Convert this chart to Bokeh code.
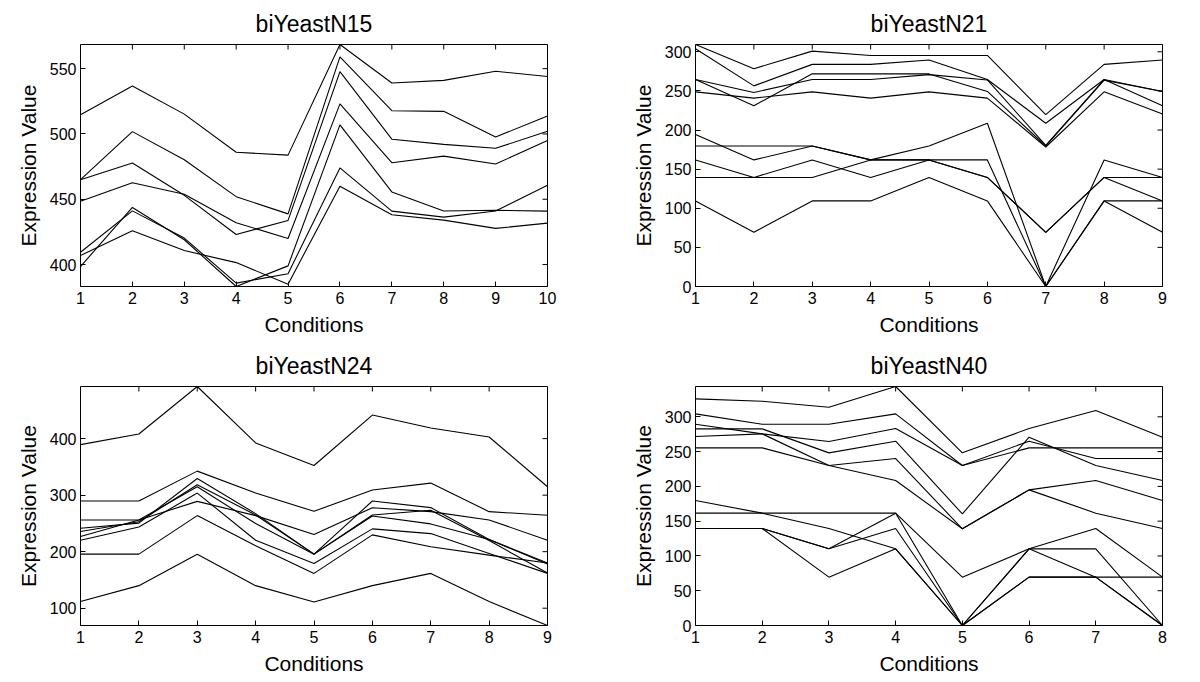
import math
from bokeh.plotting import figure
from bokeh.models import Range1d, FixedTicker
from bokeh.layouts import column, row
from bokeh.embed import file_html
from bokeh.resources import INLINE

FONT = "Liberation Sans"
TITLES = ["biYeastN15", "biYeastN21", "biYeastN24", "biYeastN40"]
X_LABEL = "Conditions"
Y_LABEL = "Expression Value"

# biYeastN15: 7 genes x 10 conditions
N15 = [
    [514.7, 536.8, 515.2, 486.0, 483.8, 568.5, 539.0, 541.0, 548.0, 544.0],
    [465.0, 501.8, 480.2, 452.0, 438.8, 559.0, 517.8, 517.3, 497.7, 513.7],
    [465.0, 477.7, 453.0, 423.0, 433.8, 547.7, 496.0, 492.0, 489.0, 502.0],
    [448.5, 462.7, 453.8, 432.0, 420.0, 523.0, 478.0, 483.0, 477.0, 495.0],
    [407.0, 425.9, 410.7, 401.5, 385.0, 460.0, 438.1, 434.0, 427.7, 431.7],
    [409.4, 441.1, 420.3, 385.8, 393.0, 474.0, 440.9, 436.3, 441.0, 460.7],
    [398.5, 443.7, 419.0, 383.2, 399.0, 507.0, 455.6, 441.0, 441.6, 440.9],
]
N15_YTICKS = [400, 450, 500, 550]

# biYeastN21: 10 genes x 9 conditions
N21 = [
    [309.3, 278.4, 300.8, 295.3, 295.3, 295.3, 219.7, 283.9, 289.4],
    [303.8, 256.4, 283.9, 283.9, 289.4, 264.5, 208.7, 264.5, 249.3],
    [264.5, 248.0, 264.5, 264.5, 270.8, 264.0, 180.4, 264.5, 231.0],
    [264.5, 231.0, 272.0, 271.7, 271.7, 249.3, 179.6, 263.6, 249.3],
    [248.8, 240.8, 248.8, 240.8, 248.8, 240.8, 178.3, 248.8, 220.5],
    [194.3, 161.8, 179.6, 161.8, 161.8, 139.4, 69.3, 139.4, 139.4],
    [179.6, 179.6, 179.6, 161.8, 161.8, 161.8, 0.0, 109.4, 109.4],
    [161.8, 139.4, 161.8, 139.4, 161.8, 139.4, 69.3, 139.4, 109.4],
    [139.4, 139.4, 139.4, 161.8, 179.6, 208.7, 0.0, 161.8, 139.4],
    [109.4, 69.3, 109.4, 109.4, 139.4, 109.4, 0.0, 109.4, 69.3],
]
N21_YTICKS = [0, 50, 100, 150, 200, 250, 300]

# biYeastN24: 9 genes x 9 conditions
N24 = [
    [389.4, 408.2, 492.2, 392.4, 352.4, 441.7, 418.8, 402.9, 314.9],
    [289.6, 289.6, 342.5, 303.7, 271.4, 309.0, 321.3, 270.8, 264.4],
    [256.1, 256.1, 289.0, 263.8, 230.3, 277.8, 270.8, 256.1, 220.3],
    [241.5, 250.5, 329.5, 267.3, 195.6, 289.6, 278.0, 221.5, 179.8],
    [235.6, 253.0, 318.4, 265.0, 195.6, 264.9, 273.2, 219.7, 162.2],
    [226.8, 256.1, 314.9, 249.7, 195.6, 263.2, 249.1, 221.5, 178.0],
    [220.3, 243.5, 303.7, 220.3, 179.2, 240.3, 232.0, 196.8, 161.6],
    [195.6, 195.6, 263.8, 210.3, 161.6, 229.7, 208.6, 193.9, 180.0],
    [111.7, 139.9, 195.6, 139.9, 111.1, 139.9, 161.6, 111.7, 69.4],
]
N24_YTICKS = [100, 200, 300, 400]

# biYeastN40: 11 genes x 8 conditions
N40 = [
    [325.8, 322.5, 313.8, 343.6, 248.2, 283.2, 309.0, 270.7],
    [304.3, 289.4, 289.4, 304.3, 230.0, 255.4, 255.4, 255.4],
    [289.4, 275.5, 264.5, 283.2, 230.0, 265.0, 240.0, 240.0],
    [282.7, 282.7, 248.2, 265.0, 160.5, 270.7, 230.0, 208.4],
    [271.7, 275.5, 230.0, 240.0, 139.0, 195.0, 208.4, 179.7],
    [255.4, 255.4, 230.0, 208.4, 139.0, 195.0, 161.5, 139.4],
    [179.7, 161.5, 139.4, 110.2, 0.0, 110.2, 69.5, 0.0],
    [161.5, 161.5, 161.5, 161.5, 69.5, 110.2, 139.4, 69.5],
    [139.4, 139.4, 110.2, 161.5, 0.0, 69.5, 69.5, 69.5],
    [139.4, 139.4, 69.5, 110.2, 0.0, 110.2, 110.2, 0.0],
    [139.4, 139.4, 110.2, 139.4, 0.0, 69.5, 69.5, 0.0],
]
N40_YTICKS = [0, 50, 100, 150, 200, 250, 300]


def style_axis(ax, ticks, label, tick_standoff, label_standoff):
    ax.ticker = FixedTicker(ticks=ticks)
    ax.axis_label = label
    ax.axis_line_color = None
    ax.major_tick_in = 5
    ax.major_tick_out = 0
    ax.major_tick_line_color = "black"
    ax.minor_tick_line_color = None
    ax.major_label_text_font = FONT
    ax.major_label_text_font_size = "16px"
    ax.major_label_text_color = "black"
    ax.major_label_standoff = tick_standoff
    ax.axis_label_text_font = FONT
    ax.axis_label_text_font_size = "21px"
    ax.axis_label_text_font_style = "normal"
    ax.axis_label_text_color = "black"
    ax.axis_label_standoff = label_standoff


def make(title, series, yticks, w, h, bl, br, bt, bb):
    n = len(series[0])
    xs = list(range(1, n + 1))
    lo = min(min(s) for s in series)
    hi = max(max(s) for s in series)
    p = figure(width=w, height=h, output_backend="svg", toolbar_location=None,
               x_range=Range1d(1, n), y_range=Range1d(lo, hi),
               min_border_left=bl, min_border_right=br,
               min_border_top=bt, min_border_bottom=bb)
    p.title.text = title
    p.title.align = "center"
    p.title.text_font = FONT
    p.title.text_font_size = "23px"
    p.title.text_font_style = "normal"
    p.title.text_color = "black"
    p.title.standoff = 16
    p.xgrid.visible = False
    p.ygrid.visible = False
    p.outline_line_color = "black"
    p.outline_line_width = 1
    p.background_fill_color = "white"
    p.border_fill_color = "white"

    style_axis(p.xaxis[0], xs, X_LABEL, 5, 6)
    style_axis(p.yaxis[0], yticks, Y_LABEL, 4, 7)

    # inward ticks mirrored on the top and right edges (half of each dash is clipped)
    p.scatter(xs, [hi] * n, marker="dash", size=10, angle=math.pi / 2,
              line_color="black", line_width=1)
    p.scatter([n] * len(yticks), yticks, marker="dash", size=10,
              line_color="black", line_width=1)

    for s in series:
        p.line(xs, s, line_color="black", line_width=1.1)
    return p


p1 = make(TITLES[0], N15, N15_YTICKS, 600, 339, 80, 53, 42, 53)
p2 = make(TITLES[1], N21, N21_YTICKS, 592, 339, 95, 30, 42, 53)
p3 = make(TITLES[2], N24, N24_YTICKS, 600, 343, 80, 53, 46, 57)
p4 = make(TITLES[3], N40, N40_YTICKS, 592, 343, 95, 30, 47, 57)

layout = column(row(p1, p2), row(p3, p4))
open("out.html", "w").write(file_html(layout, INLINE))
